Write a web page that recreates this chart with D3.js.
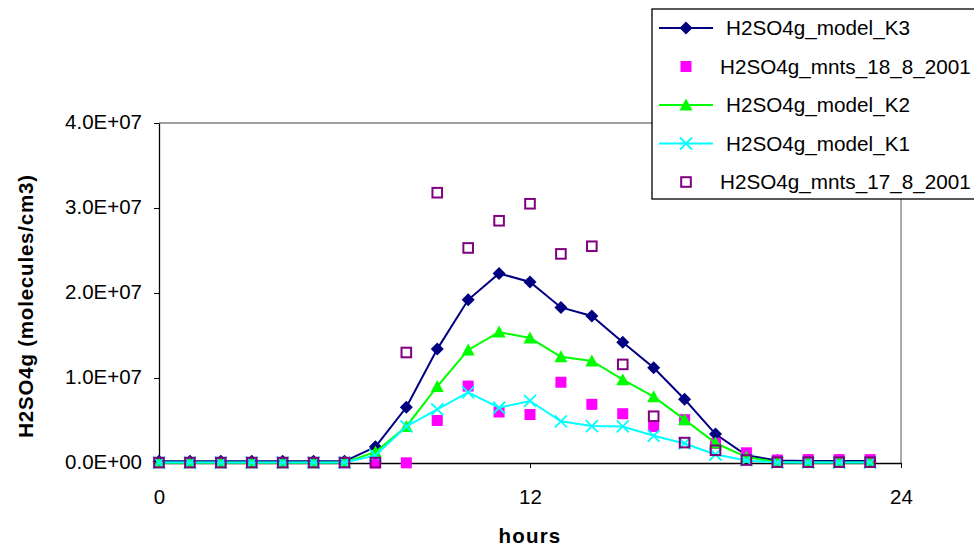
<!DOCTYPE html>
<html>
<head>
<meta charset="utf-8">
<script src="https://cdn.jsdelivr.net/npm/d3@7"></script>
<style>
  html, body { margin: 0; padding: 0; background: #fff; }
  svg { display: block; }
  text { font-family: "Liberation Sans", Arial, sans-serif; fill: #000; }
</style>
</head>
<body>
<svg id="chart" width="974" height="546"></svg>
<script>
// Hour of day for each sample
const hours = [0, 1, 2, 3, 4, 5, 6, 7, 8, 9, 10, 11, 12, 13, 14, 15, 16, 17, 18, 19, 20, 21, 22, 23];

// Modelled gas-phase H2SO4 (molecules/cm3), three rate constants
const modelK3 = [2.0e5, 2.0e5, 2.0e5, 2.0e5, 2.0e5, 2.0e5, 2.0e5, 1.9e6, 6.55e6, 1.34e7, 1.92e7, 2.23e7,
                 2.13e7, 1.83e7, 1.73e7, 1.42e7, 1.12e7, 7.5e6, 3.4e6, 9.0e5, 3.0e5, 2.5e5, 2.5e5, 2.5e5];
const modelK2 = [2.0e4, 2.0e4, 2.0e4, 2.0e4, 2.0e4, 2.0e4, 5.0e4, 1.3e6, 4.3e6, 9.0e6, 1.33e7, 1.54e7,
                 1.47e7, 1.25e7, 1.20e7, 9.8e6, 7.8e6, 5.1e6, 2.35e6, 7.0e5, 1.0e5, 5.0e4, 5.0e4, 5.0e4];
const modelK1 = [5.0e4, 5.0e4, 5.0e4, 5.0e4, 5.0e4, 5.0e4, 5.0e4, 9.0e5, 4.3e6, 6.3e6, 8.3e6, 6.5e6,
                 7.3e6, 4.9e6, 4.35e6, 4.3e6, 3.2e6, 2.3e6, 1.0e6, 3.0e5, 5.0e4, 5.0e4, 5.0e4, 5.0e4];

// Measurements, 18 Aug 2001 (no data before 07:00)
const mnts18Hours = [7, 8, 9, 10, 11, 12, 13, 14, 15, 16, 17, 18, 19, 20, 21, 22, 23];
const mnts18 = [2.0e4, 2.0e4, 5.0e6, 9.05e6, 6.0e6, 5.7e6, 9.5e6, 6.9e6, 5.8e6, 4.3e6, 5.1e6, 2.3e6,
                1.2e6, 3.5e5, 4.0e5, 4.0e5, 4.0e5];

// Measurements, 17 Aug 2001
const mnts17 = [5.0e4, 5.0e4, 5.0e4, 5.0e4, 5.0e4, 5.0e4, 5.0e4, 5.0e4, 1.30e7, 3.18e7, 2.53e7, 2.85e7,
                3.05e7, 2.46e7, 2.55e7, 1.16e7, 5.5e6, 2.4e6, 1.5e6, 3.5e5, 1.0e5, 1.0e5, 1.0e5, 1.0e5];

// Axis ticks
const xTicks = [0, 12, 24];
const yTicks = [0, 1e7, 2e7, 3e7, 4e7];

const seriesNames = ["H2SO4g_model_K3", "H2SO4g_mnts_18_8_2001", "H2SO4g_model_K2",
                     "H2SO4g_model_K1", "H2SO4g_mnts_17_8_2001"];

const series = [
  { name: seriesNames[0], x: hours, y: modelK3, color: "#000080", line: true, marker: "diamond" },
  { name: seriesNames[1], x: mnts18Hours, y: mnts18, color: "#FF00FF", line: false, marker: "square" },
  { name: seriesNames[2], x: hours, y: modelK2, color: "#00FF00", line: true, marker: "triangle" },
  { name: seriesNames[3], x: hours, y: modelK1, color: "#00FFFF", line: true, marker: "cross" },
  { name: seriesNames[4], x: hours, y: mnts17, color: "#800080", line: false, marker: "openSquare" }
];

const svg = d3.select("#chart");
const plot = { left: 159, right: 901, top: 123, bottom: 463 };

const x = d3.scaleLinear().domain([0, 24]).range([plot.left, plot.right]);
const y = d3.scaleLinear().domain([0, 4e7]).range([plot.bottom, plot.top]);

// Excel-style scientific tick labels, e.g. 2.0E+07
function sci(v) {
  if (v === 0) return "0.0E+00";
  const e = Math.floor(Math.log10(Math.abs(v)));
  const m = v / Math.pow(10, e);
  const sign = e < 0 ? "-" : "+";
  return m.toFixed(1) + "E" + sign + String(Math.abs(e)).padStart(2, "0");
}

svg.append("rect").attr("width", 974).attr("height", 546).attr("fill", "#fff");

// Plot frame (top and right edges in grey)
svg.append("path")
  .attr("d", `M${plot.left},${plot.top}H${plot.right}V${plot.bottom}`)
  .attr("fill", "none").attr("stroke", "#808080").attr("stroke-width", 1.3);

// Axes
const yAxis = svg.append("g")
  .attr("transform", `translate(${plot.left},0)`)
  .call(d3.axisLeft(y).tickValues(yTicks).tickFormat(sci).tickSize(5).tickSizeOuter(0).tickPadding(12));
const xAxis = svg.append("g")
  .attr("transform", `translate(0,${plot.bottom})`)
  .call(d3.axisBottom(x).tickValues(xTicks).tickFormat(d3.format("d")).tickSize(5).tickSizeOuter(0).tickPadding(18));

[yAxis, xAxis].forEach(g => {
  g.select(".domain").attr("stroke", "#000").attr("stroke-width", 1.3);
  g.selectAll(".tick line").attr("stroke", "#000").attr("stroke-width", 1);
  g.selectAll(".tick text")
    .attr("font-family", "'Liberation Sans', Arial, sans-serif")
    .attr("font-size", 20.5).attr("fill", "#000");
});
yAxis.selectAll(".tick text").attr("dy", "0.28em");
xAxis.selectAll(".tick text").attr("dy", "0.9em");

// Axis titles
svg.append("text")
  .attr("x", 530).attr("y", 543)
  .attr("text-anchor", "middle")
  .attr("font-size", 20.5).attr("font-weight", "bold").attr("letter-spacing", 1.2)
  .text("hours");
svg.append("text")
  .attr("transform", "translate(33,306) rotate(-90)")
  .attr("text-anchor", "middle")
  .attr("font-size", 20.5).attr("font-weight", "bold").attr("letter-spacing", 0.8)
  .text("H2SO4g (molecules/cm3)");

// Marker drawing
function drawMarker(g, type, color) {
  switch (type) {
    case "diamond":
      g.append("path").attr("d", "M0,-6.5L6.5,0L0,6.5L-6.5,0Z").attr("fill", color);
      break;
    case "triangle":
      g.append("path").attr("d", "M0,-6.5L6.5,5.5L-6.5,5.5Z").attr("fill", color);
      break;
    case "square":
      g.append("rect").attr("x", -5.5).attr("y", -5.5).attr("width", 11).attr("height", 11).attr("fill", color);
      break;
    case "openSquare":
      g.append("rect").attr("x", -4.8).attr("y", -4.8).attr("width", 9.6).attr("height", 9.6)
        .attr("fill", "none").attr("stroke", color).attr("stroke-width", 2);
      break;
    case "cross":
      g.append("path").attr("d", "M-6,-6L6,6M-6,6L6,-6")
        .attr("stroke", color).attr("stroke-width", 1.8).attr("fill", "none");
      break;
  }
}

const lineGen = d3.line().x(d => x(d[0])).y(d => y(d[1]));

series.forEach(s => {
  const pts = s.x.map((h, i) => [h, s.y[i]]);
  const g = svg.append("g");
  if (s.line) {
    g.append("path").datum(pts).attr("d", lineGen)
      .attr("fill", "none").attr("stroke", s.color).attr("stroke-width", 2);
  }
  pts.forEach(p => {
    const m = g.append("g").attr("transform", `translate(${x(p[0])},${y(p[1])})`);
    drawMarker(m, s.marker, s.color);
  });
});

// Legend
const legend = svg.append("g");
legend.append("rect")
  .attr("x", 652).attr("y", 9).attr("width", 340).attr("height", 190)
  .attr("fill", "#fff").attr("stroke", "#000").attr("stroke-width", 1.3);

const rowY = d3.scalePoint().domain(seriesNames).range([28, 182]);
series.forEach(s => {
  const cy = rowY(s.name);
  const g = legend.append("g");
  if (s.line) {
    g.append("line").attr("x1", 659).attr("x2", 713).attr("y1", cy).attr("y2", cy)
      .attr("stroke", s.color).attr("stroke-width", 2);
  }
  const m = g.append("g").attr("transform", `translate(686,${cy})`);
  drawMarker(m, s.marker, s.color);
  g.append("text")
    .attr("x", s.line ? 726 : 720).attr("y", cy).attr("dy", "0.35em")
    .attr("font-size", 20.7)
    .text(s.name);
});
</script>
</body>
</html>
